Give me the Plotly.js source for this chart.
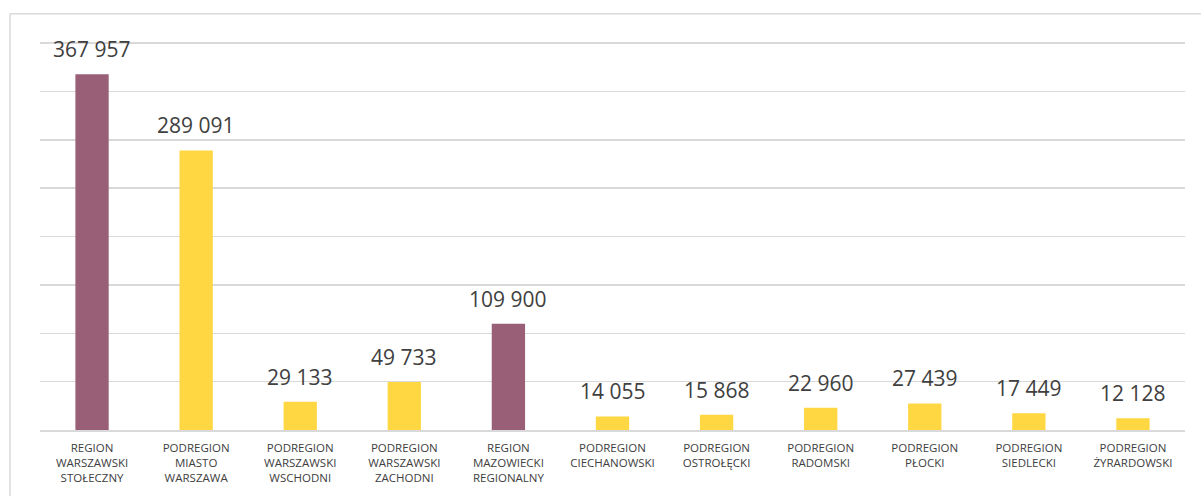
<!DOCTYPE html>
<html>
<head>
<meta charset="utf-8">
<script src="https://cdn.plot.ly/plotly-3.0.1.min.js"></script>
<style>html,body{margin:0;padding:0;background:#fff;}#chart{width:1201px;height:496px;}</style>
</head>
<body>
<div id="chart"></div>
<script>
const categories = [
  "REGION<br>WARSZAWSKI<br>STOŁECZNY",
  "PODREGION<br>MIASTO<br>WARSZAWA",
  "PODREGION<br>WARSZAWSKI<br>WSCHODNI",
  "PODREGION<br>WARSZAWSKI<br>ZACHODNI",
  "REGION<br>MAZOWIECKI<br>REGIONALNY",
  "PODREGION<br>CIECHANOWSKI",
  "PODREGION<br>OSTROŁĘCKI",
  "PODREGION<br>RADOMSKI",
  "PODREGION<br>PŁOCKI",
  "PODREGION<br>SIEDLECKI",
  "PODREGION<br>ŻYRARDOWSKI"
];
const values = [367957, 289091, 29133, 49733, 109900, 14055, 15868, 22960, 27439, 17449, 12128];
const valueLabels = ["367 957", "289 091", "29 133", "49 733", "109 900", "14 055", "15 868", "22 960", "27 439", "17 449", "12 128"];
const isRegion = [true, false, false, false, true, false, false, false, false, false, false];

const purple = "#985F77";
const yellow = "#FFD743";
const ids = categories.map((c, i) => "c" + i);

const trace = {
  type: "bar",
  x: ids,
  y: values,
  marker: { color: isRegion.map(r => r ? purple : yellow) },
  hoverinfo: "none"
};

const annotations = ids.map((id, i) => ({
  x: id, y: values[i], xref: "x", yref: "y",
  text: valueLabels[i], showarrow: false,
  yanchor: "middle", yshift: 25,
  font: { family: "Open Sans, sans-serif", size: 21, color: "#404040" }
}));

const layout = {
  width: 1201, height: 496,
  margin: { l: 40, r: 16, t: 42, b: 66 },
  paper_bgcolor: "#ffffff",
  plot_bgcolor: "#ffffff",
  bargap: 0.68,
  showlegend: false,
  xaxis: {
    type: "category",
    tickmode: "array",
    tickvals: ids,
    ticktext: categories,
    showgrid: false,
    showline: true,
    linecolor: "#D9D9D9",
    linewidth: 2,
    ticks: "",
    ticklabelstandoff: 6,
    tickfont: { family: "Open Sans, sans-serif", size: 11.5, color: "#404040" }
  },
  yaxis: {
    range: [0, 401200],
    tickmode: "array",
    tickvals: [0, 50000, 100000, 150000, 200000, 250000, 300000, 350000, 400000],
    showticklabels: false,
    showgrid: true,
    gridcolor: "#D9D9D9",
    gridwidth: 1.5,
    zeroline: false,
    fixedrange: true
  },
  annotations: annotations,
  shapes: [
    { type: "line", xref: "paper", yref: "paper", x0: -0.0262, x1: 1.2, y0: 1.073, y1: 1.073,
      line: { color: "#D9D9D9", width: 1.5 } },
    { type: "line", xref: "paper", yref: "paper", x0: -0.0262, x1: -0.0262, y0: 1.073, y1: -0.3,
      line: { color: "#D9D9D9", width: 1.5 } }
  ]
};

Plotly.newPlot("chart", [trace], layout, { displayModeBar: false, staticPlot: true });
</script>
</body>
</html>
